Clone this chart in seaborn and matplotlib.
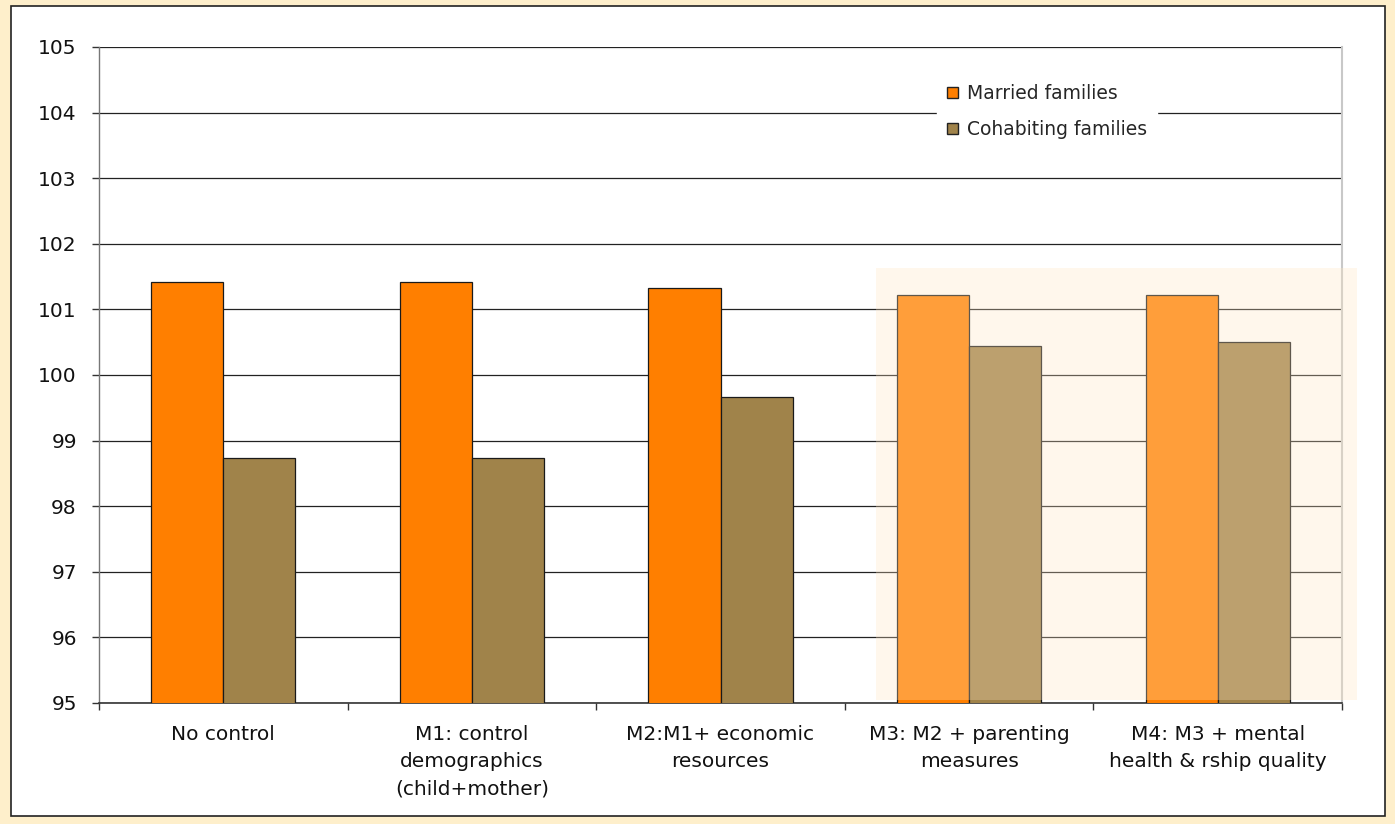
import matplotlib
matplotlib.use("Agg")
import matplotlib.pyplot as plt
from matplotlib.patches import Rectangle, Patch
import seaborn as sns
import pandas as pd
import numpy as np

# Model labels and mean scores by family type
models = [
    "No control",
    "M1: control\ndemographics\n(child+mother)",
    "M2:M1+ economic\nresources",
    "M3: M2 + parenting\nmeasures",
    "M4: M3 + mental\nhealth & rship quality",
]
married = [101.42, 101.42, 101.32, 101.22, 101.22]
cohabiting = [98.74, 98.74, 99.66, 100.44, 100.50]
series = ["Married families", "Cohabiting families"]
colors = ["#FF7F00", "#A0834A"]
y_ticks = list(range(95, 106))

df = pd.DataFrame({
    "model": models * 2,
    "score": married + cohabiting,
    "family": [series[0]] * len(models) + [series[1]] * len(models),
})

sns.set_theme(style="white")
plt.rcParams["font.family"] = ["DejaVu Sans"]

W, H = 1395, 824
fig = plt.figure(figsize=(W / 100, H / 100), dpi=100)
fig.patch.set_facecolor("#FEEFCB")

# white inner panel with dark border
fig.add_artist(Rectangle((11 / W, 1 - 816 / H), (1385 - 11) / W, (816 - 6) / H,
                         transform=fig.transFigure, facecolor="white",
                         edgecolor="#222222", linewidth=1.2, zorder=-5))

ax = fig.add_axes([99 / W, 1 - 703 / H, (1342 - 99) / W, (703 - 47) / H])
ax.set_zorder(2)
ax.set_facecolor("white")

sns.barplot(data=df, x="model", y="score", hue="family", order=models,
            hue_order=series, palette=colors, width=0.58, gap=0,
            edgecolor="#1a1a1a", linewidth=0.9, saturation=1, ax=ax, zorder=3)

ax.set_ylim(95, 105)
ax.set_xlim(-0.5, len(models) - 0.5)
ax.set_yticks(y_ticks)
ax.set_yticklabels([str(t) for t in y_ticks], fontsize=14.5, color="#111111")
ax.yaxis.grid(True, color="#222222", linewidth=0.9)
ax.set_axisbelow(True)
ax.set_xlabel("")
ax.set_ylabel("")

# category labels at centres, tick marks at category boundaries
ax.set_xticks(np.arange(len(models)))
ax.set_xticklabels(models, fontsize=14.5, color="#111111", linespacing=1.55,
                   va="top")
ax.set_xticks(np.arange(len(models) + 1) - 0.5, minor=True)
ax.tick_params(axis="x", which="major", length=0, pad=16)
ax.tick_params(axis="x", which="minor", length=5, width=1, color="#333333",
               direction="out", bottom=True)
ax.tick_params(axis="y", which="major", length=5, width=1, color="#333333",
               direction="out", left=True, pad=11)

ax.spines["top"].set_visible(False)
ax.spines["left"].set_color("#777777")
ax.spines["left"].set_linewidth(1.0)
ax.spines["bottom"].set_color("#333333")
ax.spines["bottom"].set_linewidth(1.2)
ax.spines["right"].set_color("#C8C8C8")
ax.spines["right"].set_linewidth(1.5)

# legend on a white box
if ax.get_legend() is not None:
    ax.get_legend().remove()
handles = [Patch(facecolor=c, edgecolor="#222222", linewidth=1.0) for c in colors]
leg = ax.legend(handles, series, loc="upper left",
                bbox_to_anchor=((937 - 99) / (1342 - 99), 1 - (74 - 47) / (703 - 47)),
                frameon=True, fontsize=13.5, handlelength=0.55, handleheight=0.55,
                handletextpad=0.5, labelspacing=0.9, borderpad=0.55,
                borderaxespad=0)
leg.get_frame().set_facecolor("white")
leg.get_frame().set_edgecolor("white")
leg.get_frame().set_alpha(1)
leg.set_zorder(5)

# translucent highlight over the last two models
ax.add_patch(Rectangle((3 - 0.375, 95.05), 1.935, 101.63 - 95.05,
                       facecolor=(1.0, 0.90, 0.76), alpha=0.3,
                       edgecolor="none", zorder=6, clip_on=False))

fig.savefig("out.png", dpi=100, facecolor=fig.get_facecolor())
